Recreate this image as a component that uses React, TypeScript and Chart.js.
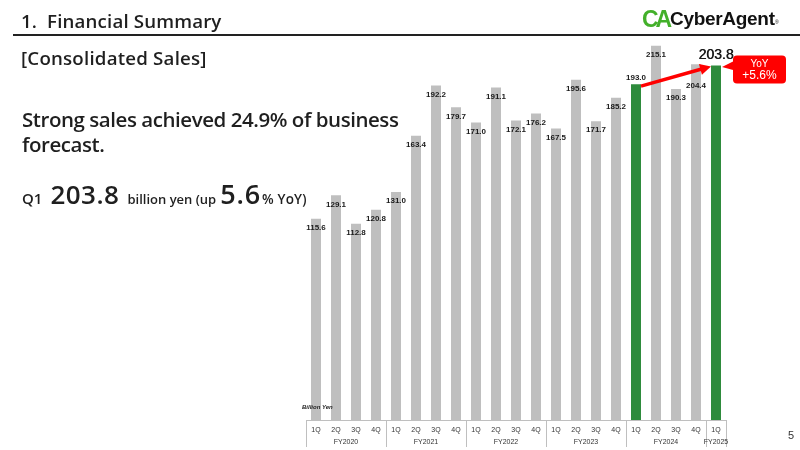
import React, { useEffect, useRef } from "react";
import { Chart, registerables } from "chart.js";

Chart.register(...registerables);

// Quarterly consolidated sales, billion yen
const quarterLabels = [
  "1Q", "2Q", "3Q", "4Q",
  "1Q", "2Q", "3Q", "4Q",
  "1Q", "2Q", "3Q", "4Q",
  "1Q", "2Q", "3Q", "4Q",
  "1Q", "2Q", "3Q", "4Q",
  "1Q",
];
const fiscalYears = [
  "FY2020", "FY2020", "FY2020", "FY2020",
  "FY2021", "FY2021", "FY2021", "FY2021",
  "FY2022", "FY2022", "FY2022", "FY2022",
  "FY2023", "FY2023", "FY2023", "FY2023",
  "FY2024", "FY2024", "FY2024", "FY2024",
  "FY2025",
];
const sales = [
  115.6, 129.1, 112.8, 120.8,
  131.0, 163.4, 192.2, 179.7,
  171.0, 191.1, 172.1, 176.2,
  167.5, 195.6, 171.7, 185.2,
  193.0, 215.1, 190.3, 204.4,
  203.8,
];
// Quarters compared year on year (FY2024 1Q -> FY2025 1Q)
const comparedQuarters = [16, 20];
const yoyBadge = ["YoY", "+5.6%"];
const unitLabel = "Billion Yen";

const GREY = "#BFBFBF";
const GREEN = "#2E8B3C";
const RED = "#FF0000";

const fmt = (v: number) => v.toFixed(1);

const overlayPlugin = {
  id: "salesOverlay",
  afterDatasetsDraw(chart: any) {
    const { ctx, chartArea } = chart;
    const meta = chart.getDatasetMeta(0);
    const bars = meta.data as any[];
    const last = sales.length - 1;
    const [fromIdx, toIdx] = comparedQuarters;

    ctx.save();

    // value labels
    ctx.textAlign = "center";
    ctx.textBaseline = "middle";
    bars.forEach((bar: any, i: number) => {
      let dy = 9;
      let font = "bold 8px 'Liberation Sans', Arial, sans-serif";
      if (i === fromIdx) dy = -6;
      if (i === 19) dy = 21;
      if (i === toIdx) {
        dy = -10;
        font = "14px 'Liberation Sans', Arial, sans-serif";
      }
      ctx.font = font;
      ctx.fillStyle = "#1a1a1a";
      ctx.fillText(fmt(sales[i]), bar.x, bar.y + dy);
      if (i === toIdx) ctx.fillText(fmt(sales[i]), bar.x + 0.4, bar.y + dy);
    });

    // YoY arrow between compared quarters
    const a = bars[fromIdx];
    const b = bars[toIdx];
    const x1 = a.x + a.width / 2;
    const y1 = a.y + 2;
    const x2 = b.x - b.width / 2;
    const y2 = b.y + 1;
    const ang = Math.atan2(y2 - y1, x2 - x1);
    const head = 11;
    ctx.strokeStyle = RED;
    ctx.fillStyle = RED;
    ctx.lineWidth = 3.5;
    ctx.beginPath();
    ctx.moveTo(x1, y1);
    ctx.lineTo(x2 - head * 0.8 * Math.cos(ang), y2 - head * 0.8 * Math.sin(ang));
    ctx.stroke();
    ctx.beginPath();
    ctx.moveTo(x2, y2);
    ctx.lineTo(
      x2 - head * Math.cos(ang) + 5.5 * Math.sin(ang),
      y2 - head * Math.sin(ang) - 5.5 * Math.cos(ang)
    );
    ctx.lineTo(
      x2 - head * Math.cos(ang) - 5.5 * Math.sin(ang),
      y2 - head * Math.sin(ang) + 5.5 * Math.cos(ang)
    );
    ctx.closePath();
    ctx.fill();

    // YoY callout
    const bx = b.x + 17;
    const by = b.y - 10;
    const bw = 53;
    const bh = 28;
    ctx.beginPath();
    ctx.roundRect(bx, by, bw, bh, 4);
    ctx.fill();
    ctx.beginPath();
    ctx.moveTo(bx + 2, by + 5);
    ctx.lineTo(b.x + 6, b.y + 1.5);
    ctx.lineTo(bx + 2, by + 15);
    ctx.closePath();
    ctx.fill();
    ctx.fillStyle = "#FFFFFF";
    ctx.font = "10px 'Liberation Sans', Arial, sans-serif";
    ctx.fillText(yoyBadge[0], bx + bw / 2, by + 8.5);
    ctx.font = "12px 'Liberation Sans', Arial, sans-serif";
    ctx.fillText(yoyBadge[1], bx + bw / 2, by + 20.5);

    // unit label
    ctx.fillStyle = "#222";
    ctx.textAlign = "left";
    ctx.font = "italic bold 6px 'Liberation Sans', Arial, sans-serif";
    ctx.fillText(unitLabel, chartArea.left - 4, chartArea.bottom - 13);

    // category table under the bars
    const half = (bars[1].x - bars[0].x) / 2;
    const bottom = chartArea.bottom;
    ctx.strokeStyle = GREY;
    ctx.lineWidth = 1;
    ctx.beginPath();
    ctx.moveTo(bars[0].x - half, bottom + 0.5);
    ctx.lineTo(bars[last].x + half, bottom + 0.5);
    ctx.stroke();

    const edges: number[] = [];
    fiscalYears.forEach((fy, i) => {
      if (i === 0 || fy !== fiscalYears[i - 1]) edges.push(Math.round(bars[i].x - half) + 0.5);
    });
    edges.push(Math.round(bars[last].x + half) + 0.5);
    ctx.beginPath();
    edges.forEach((x) => {
      ctx.moveTo(x, bottom);
      ctx.lineTo(x, bottom + 27);
    });
    ctx.stroke();

    ctx.fillStyle = "#333";
    ctx.textAlign = "center";
    ctx.font = "7px 'Liberation Sans', Arial, sans-serif";
    bars.forEach((bar: any, i: number) => {
      ctx.fillText(quarterLabels[i], bar.x, bottom + 10.5);
    });
    let start = 0;
    for (let i = 1; i <= fiscalYears.length; i++) {
      if (i === fiscalYears.length || fiscalYears[i] !== fiscalYears[start]) {
        const cx = (bars[start].x + bars[i - 1].x) / 2;
        ctx.fillText(fiscalYears[start], cx, bottom + 22.5);
        start = i;
      }
    }

    ctx.restore();
  },
};

const headFont = "'Open Sans', 'Noto Sans', sans-serif";

export default function App() {
  const canvasRef = useRef<HTMLCanvasElement | null>(null);

  useEffect(() => {
    if (!canvasRef.current) return;
    const chart = new Chart(canvasRef.current, {
      type: "bar",
      data: {
        labels: quarterLabels.map((q, i) => `${fiscalYears[i]} ${q}`),
        datasets: [
          {
            data: sales,
            backgroundColor: sales.map((_, i) => (comparedQuarters.includes(i) ? GREEN : GREY)),
            barPercentage: 0.5,
            categoryPercentage: 1,
          },
        ],
      },
      options: {
        responsive: false,
        animation: false,
        events: [],
        layout: { padding: { left: 306, right: 74, top: 37.2, bottom: 30 } },
        plugins: { legend: { display: false }, tooltip: { enabled: false } },
        scales: {
          x: { display: false },
          y: { display: false, min: 0, max: 220 },
        },
      },
      plugins: [overlayPlugin],
    });
    return () => chart.destroy();
  }, []);

  const abs = (s: React.CSSProperties): React.CSSProperties => ({ position: "absolute", whiteSpace: "nowrap", ...s });

  return (
    <div style={{ position: "absolute", left: 0, top: 0, width: 800, height: 450, background: "#fff", overflow: "hidden", fontFamily: headFont, color: "#1f1f1f" }}>
      <canvas ref={canvasRef} width={800} height={450} style={{ position: "absolute", left: 0, top: 0 }} />

      <div style={abs({ left: 21, top: 8, fontSize: 18.7, fontWeight: 600, lineHeight: "26px", letterSpacing: 0.15 })}>1.&nbsp; Financial Summary</div>
      <div style={abs({ left: 13, top: 34, width: 787, height: 2, background: "#222" })} />

      <div style={abs({ left: 642, top: 5, fontSize: 23, fontWeight: 700, color: "#43B02A", letterSpacing: -3, lineHeight: "28px", fontFamily: "'Liberation Sans', Arial, sans-serif" })}>CA</div>
      <div style={abs({ left: 670, top: 5, fontSize: 19, fontWeight: 700, color: "#111", lineHeight: "28px", fontFamily: "'Liberation Sans', Arial, sans-serif", letterSpacing: -0.3 })}>CyberAgent</div>
      <div style={abs({ left: 775, top: 19, fontSize: 5, color: "#111", fontFamily: "'Liberation Sans', Arial, sans-serif" })}>®</div>

      <div style={abs({ left: 21, top: 44.5, fontSize: 18.7, fontWeight: 600, lineHeight: "26px", letterSpacing: 0.2 })}>[Consolidated Sales]</div>

      <div style={abs({ left: 22, top: 107, fontSize: 20.5, fontWeight: 600, lineHeight: "25px", letterSpacing: -0.45 })}>
        Strong sales achieved 24.9% of business
        <br />
        forecast.
      </div>

      <div style={abs({ left: 22, top: 179, fontWeight: 600, lineHeight: "30px", display: "flex", alignItems: "baseline" })}>
        <span style={{ fontSize: 15 }}>Q1</span>
        <span style={{ fontSize: 26, letterSpacing: 0.5, marginLeft: 8 }}>203.8</span>
        <span style={{ fontSize: 13, marginLeft: 8 }}>billion yen (up</span>
        <span style={{ fontSize: 27, letterSpacing: 0.8, marginLeft: 4 }}>5.6</span>
        <span style={{ fontSize: 13.5, letterSpacing: 0.2, marginLeft: 1 }}>% YoY)</span>
      </div>

      <div style={abs({ left: 788, top: 429, fontSize: 11, color: "#333", fontFamily: "'Liberation Sans', Arial, sans-serif" })}>5</div>
    </div>
  );
}
